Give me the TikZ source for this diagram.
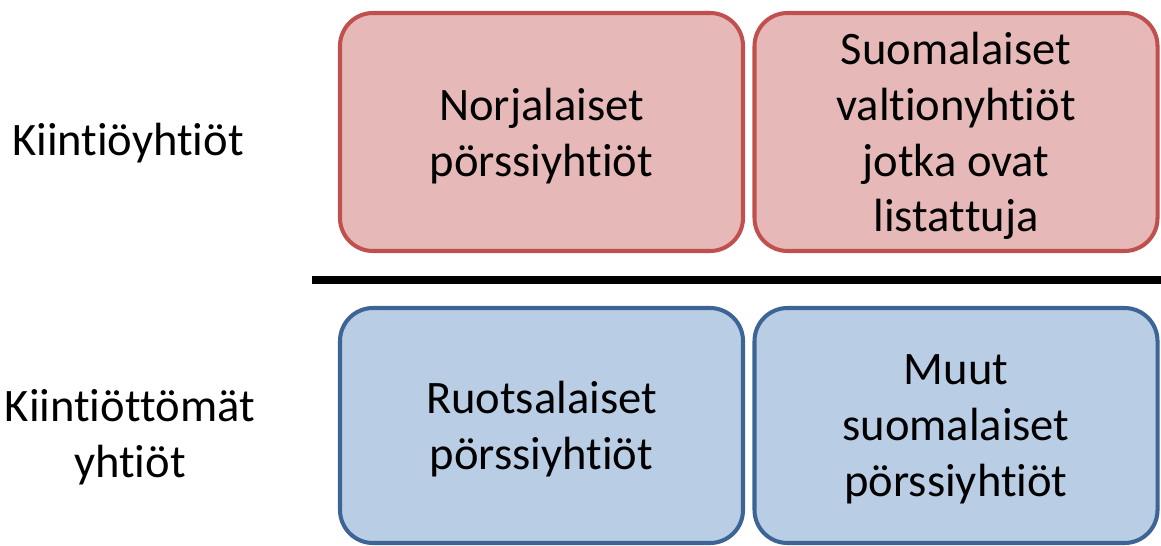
\documentclass[tikz,border=0pt]{standalone}
\usepackage{fontspec}
\setmainfont{Carlito}[Ligatures=NoCommon]
\usepackage{tikz}
\usetikzlibrary{positioning}
\definecolor{quotafill}{HTML}{E6B9B8}
\definecolor{quotaline}{HTML}{C0504D}
\definecolor{freefill}{HTML}{B9CDE5}
\definecolor{freeline}{HTML}{3C6494}
% keep t+i and t+t as separate letters
\newcommand{\nolig}{\kern0pt }
\tikzset{
  quotabox/.style={draw=quotaline, line width=2.3pt, rounded corners=0.66cm, fill=quotafill, minimum width=8.06cm, minimum height=4.76cm, align=center, text depth=0pt},
  freebox/.style={draw=freeline, line width=2.3pt, rounded corners=0.66cm, fill=freefill, minimum width=8.06cm, minimum height=4.7cm, align=center, text depth=0pt},
  rowlabel/.style={align=center},
  divider/.style={line width=0.16cm}
}

\begin{document}
\begin{tikzpicture}[every node/.style={font=\fontsize{26.5}{31.8}\selectfont}]
      \useasboundingbox (0,0) rectangle (23.22,10.9);
      \node[rowlabel] (quota) at (2.56,8.04) {Kiint\nolig iöyht\nolig iöt};
      \node[rowlabel] (free) at (2.6,2.16) {Kiint\nolig iöt\nolig tömät\\yht\nolig iöt};
      \node[quotabox] (norway) at (10.83,8.26) {Norjalaiset\\pörssiyht\nolig iöt};
      \node[quotabox] (state) at (19.12,8.26) {Suomalaiset\\valt\nolig ionyht\nolig iöt\\jotka ovat\\listat\nolig tuja};
      \node[freebox] (sweden) at (10.83,2.39) {Ruotsalaiset\\pörssiyht\nolig iöt};
      \node[freebox] (others) at (19.12,2.39) {Muut\\suomalaiset\\pörssiyht\nolig iöt};
      \coordinate (sepL) at (6.24,5.3);
      \coordinate (sepR) at (23.22,5.3);
      \draw[divider] (sepL) -- (sepR);
    \end{tikzpicture}
\end{document}
